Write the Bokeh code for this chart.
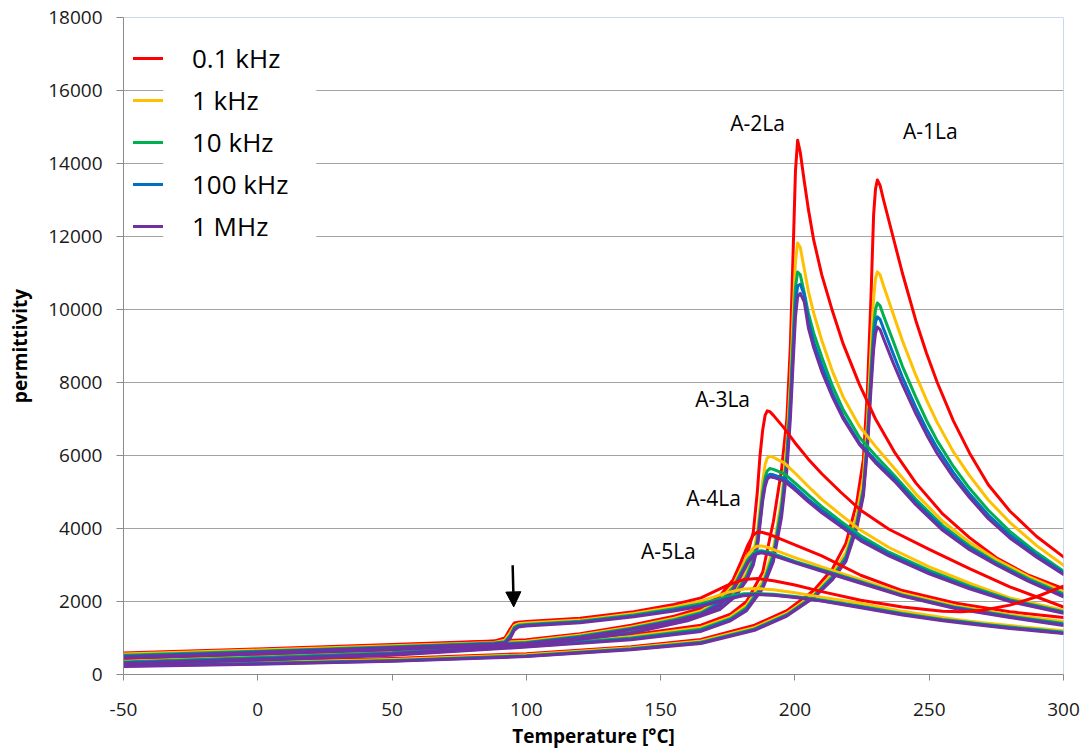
from bokeh.plotting import figure
from bokeh.models import (Range1d, Span, Arrow, NormalHead, Legend, LegendItem,
                          FixedTicker, NumeralTickFormatter, BoxAnnotation)
from bokeh.core.properties import value
from bokeh.embed import file_html
from bokeh.resources import INLINE

FONT = "Open Sans"

freq_labels = ["0.1 kHz", "1 kHz", "10 kHz", "100 kHz", "1 MHz"]
freq_colors = ["#FF0000", "#FFC000", "#00B050", "#0070C0", "#7030A0"]

x_ticks = [-50, 0, 50, 100, 150, 200, 250, 300]
y_ticks = [0, 2000, 4000, 6000, 8000, 10000, 12000, 14000, 16000, 18000]

# ---------------- A-1La ----------------
T_A1 = [-50, 0, 50, 100, 139, 165, 185, 197, 207, 214, 219, 223, 225.5, 227, 228.3, 229.3,
        230, 230.7, 231.7, 233, 236.5, 240, 245, 249, 253, 259, 265, 272, 280, 290, 300]
A1_01k = [300, 360, 440, 570, 760, 960, 1350, 1750, 2300, 2900, 3600, 4700, 5900, 7800, 10300, 12600,
          13300, 13550, 13400, 13000, 12000, 11000, 9700, 8800, 8000, 6950, 6070, 5200, 4480, 3780, 3222]
A1_1k = [270, 330, 410, 540, 730, 920, 1290, 1680, 2200, 2750, 3350, 4350, 5400, 6900, 8900, 10300,
         10850, 11030, 10950, 10650, 9900, 9150, 8200, 7520, 6900, 6100, 5450, 4780, 4170, 3530, 2995]
A1_10k = [245, 305, 385, 515, 705, 885, 1250, 1640, 2150, 2680, 3230, 4150, 5100, 6500, 8300, 9500,
          10000, 10180, 10100, 9830, 9150, 8450, 7600, 6960, 6400, 5700, 5100, 4500, 3920, 3340, 2830]
A1_100k = [232, 292, 372, 502, 692, 867, 1230, 1620, 2120, 2640, 3170, 4070, 4980, 6350, 8000, 9200,
           9650, 9800, 9730, 9470, 8800, 8150, 7320, 6720, 6200, 5530, 4950, 4370, 3820, 3270, 2790]
A1_1M = [220, 280, 360, 490, 680, 850, 1210, 1600, 2100, 2600, 3100, 4000, 4900, 6200, 7800, 8900,
         9350, 9520, 9450, 9200, 8550, 7950, 7150, 6570, 6050, 5400, 4850, 4270, 3740, 3210, 2740]

# ---------------- A-2La ----------------
T_A2 = [-50, 0, 50, 100, 139, 165, 176, 182, 188, 192, 195, 197, 198.3, 199.3, 200.2, 201, 202,
        203.5, 205, 207, 210, 214, 218, 224, 230, 237, 245, 255, 265, 275, 287, 300]
A2_01k = [370, 480, 620, 850, 1080, 1350, 1650, 2000, 2800, 4200, 5600, 7000, 9000, 11500, 13800, 14640, 14300,
          13500, 12750, 11900, 10950, 9950, 9050, 7950, 7000, 6100, 5250, 4400, 3750, 3200, 2720, 2350]
A2_1k = [340, 450, 590, 820, 1040, 1290, 1580, 1900, 2550, 3450, 4800, 6300, 8000, 9800, 11300, 11825, 11700,
         11100, 10500, 9900, 9150, 8300, 7600, 6800, 6250, 5650, 4950, 4200, 3620, 3150, 2680, 2270]
A2_10k = [315, 425, 565, 790, 1000, 1240, 1530, 1830, 2450, 3300, 4600, 6000, 7600, 9200, 10600, 11030, 10950,
          10450, 9900, 9350, 8700, 7900, 7250, 6500, 6000, 5450, 4800, 4080, 3520, 3070, 2620, 2210]
A2_100k = [295, 405, 545, 770, 975, 1205, 1500, 1790, 2400, 3200, 4450, 5800, 7300, 8800, 10150, 10650, 10690,
           10400, 9700, 9100, 8470, 7700, 7070, 6350, 5870, 5370, 4720, 4010, 3470, 3030, 2580, 2170]
A2_1M = [280, 390, 530, 750, 950, 1180, 1470, 1750, 2350, 3100, 4300, 5600, 7000, 8500, 9800, 10350, 10440,
         10200, 9500, 8950, 8300, 7600, 7000, 6300, 5800, 5300, 4650, 3950, 3420, 3000, 2550, 2130]

# ---------------- A-3La ----------------
T_A3 = [-50, 0, 50, 100, 139, 160, 172, 178, 182, 184.5, 186, 187, 188, 188.9, 189.7, 190.7, 192,
        196, 200, 205, 210, 217, 224.5, 235, 250, 265, 280, 300]
A3_01k = [400, 520, 650, 880, 1250, 1650, 2050, 2600, 3200, 3900, 5000, 6000, 6700, 7100, 7222, 7200, 7100,
          6750, 6350, 5900, 5500, 5000, 4500, 3980, 3430, 2900, 2400, 1850]
A3_1k = [360, 480, 610, 840, 1190, 1560, 1900, 2300, 2800, 3300, 3900, 4600, 5300, 5750, 5930, 5981, 5950,
         5800, 5520, 5150, 4800, 4380, 3950, 3480, 2950, 2500, 2100, 1760]
A3_10k = [345, 465, 595, 820, 1160, 1520, 1850, 2230, 2700, 3150, 3700, 4350, 5000, 5400, 5580, 5644, 5620,
          5500, 5250, 4920, 4600, 4200, 3800, 3350, 2850, 2420, 2050, 1720]
A3_100k = [320, 440, 575, 800, 1140, 1490, 1810, 2180, 2620, 3050, 3550, 4200, 4850, 5250, 5430, 5488, 5470,
           5370, 5130, 4800, 4500, 4120, 3720, 3300, 2800, 2380, 2020, 1700]
A3_1M = [300, 420, 560, 790, 1130, 1470, 1780, 2150, 2580, 3000, 3480, 4100, 4750, 5150, 5350, 5414, 5400,
         5300, 5060, 4730, 4430, 4060, 3660, 3250, 2760, 2350, 2000, 1680]

# ---------------- A-4La ----------------
T_A4 = [-50, 0, 50, 100, 120, 139, 155, 165, 172, 177, 180, 182.5, 184.5, 186, 187.5, 190, 195,
        200, 210, 224.5, 240, 260, 280, 300]
A4_01k = [560, 670, 790, 950, 1120, 1350, 1600, 1820, 2150, 2600, 3100, 3550, 3820, 3900, 3900, 3850, 3700,
          3550, 3250, 2720, 2300, 1950, 1720, 1560]
A4_1k = [520, 630, 750, 910, 1080, 1300, 1540, 1740, 2040, 2450, 2900, 3280, 3460, 3515, 3523, 3480, 3340,
         3200, 2950, 2600, 2230, 1880, 1640, 1450]
A4_10k = [490, 600, 720, 880, 1050, 1270, 1500, 1690, 1980, 2380, 2800, 3150, 3320, 3380, 3390, 3360, 3230,
          3100, 2870, 2540, 2180, 1840, 1600, 1400]
A4_100k = [470, 580, 700, 860, 1030, 1250, 1470, 1660, 1940, 2330, 2750, 3100, 3280, 3340, 3360, 3330, 3200,
           3080, 2850, 2520, 2160, 1820, 1580, 1370]
A4_1M = [450, 560, 680, 840, 1000, 1230, 1450, 1640, 1900, 2300, 2710, 3060, 3250, 3310, 3332, 3300, 3180,
         3060, 2830, 2500, 2150, 1800, 1560, 1340]

# ---------------- A-5La ----------------
T_A5 = [-50, 0, 50, 88, 92, 94, 95.5, 97, 100, 120, 140, 155, 165, 175, 181, 186, 192, 200, 210,
        224.5, 240, 255, 262, 270, 280, 290, 300]
A5_01k = [590, 700, 820, 915, 1000, 1250, 1410, 1435, 1450, 1540, 1720, 1920, 2100, 2450, 2600, 2630, 2570,
          2450, 2270, 2035, 1850, 1730, 1720, 1760, 1900, 2130, 2419]
A5_1k = [560, 670, 790, 880, 940, 1150, 1340, 1390, 1410, 1490, 1670, 1850, 2010, 2250, 2340, 2356, 2320,
         2240, 2120, 1950, 1730, 1560, 1490, 1420, 1340, 1270, 1200]
A5_10k = [530, 640, 760, 860, 900, 1080, 1290, 1350, 1370, 1460, 1630, 1800, 1940, 2130, 2210, 2219, 2200,
          2140, 2040, 1870, 1670, 1510, 1450, 1380, 1300, 1230, 1160]
A5_100k = [500, 620, 740, 845, 880, 1030, 1250, 1320, 1350, 1440, 1600, 1770, 1900, 2090, 2180, 2200, 2180,
           2120, 2020, 1850, 1650, 1490, 1430, 1360, 1280, 1210, 1140]
A5_1M = [480, 600, 730, 830, 865, 990, 1210, 1300, 1330, 1420, 1580, 1740, 1870, 2060, 2160, 2190, 2170,
         2110, 2010, 1830, 1630, 1470, 1410, 1340, 1260, 1190, 1120]

samples = [
    (T_A1, [A1_01k, A1_1k, A1_10k, A1_100k, A1_1M]),
    (T_A2, [A2_01k, A2_1k, A2_10k, A2_100k, A2_1M]),
    (T_A3, [A3_01k, A3_1k, A3_10k, A3_100k, A3_1M]),
    (T_A4, [A4_01k, A4_1k, A4_10k, A4_100k, A4_1M]),
    (T_A5, [A5_01k, A5_1k, A5_10k, A5_100k, A5_1M]),
]

sample_names = ["A-1La", "A-2La", "A-3La", "A-4La", "A-5La"]
name_x = [250.4, 186.1, 173.1, 169.7, 152.9]
name_y = [14877, 15118, 7551, 4830, 3386]

# arrow marking the step near 95 °C
arrow_x = [94.9, 95.3]
arrow_y = [2995, 1852]

p = figure(width=1083, height=751, x_range=Range1d(-50, 300), y_range=Range1d(0, 18000),
           output_backend="svg", toolbar_location=None,
           min_border_left=123, min_border_right=20, min_border_top=17, min_border_bottom=77)
p.outline_line_color = None
p.background_fill_color = "white"
p.border_fill_color = "white"

p.xgrid.grid_line_color = None
p.ygrid.grid_line_color = "#a3a3a3"
p.ygrid.grid_line_width = 1

p.xaxis.ticker = FixedTicker(ticks=x_ticks)
p.yaxis.ticker = FixedTicker(ticks=y_ticks)
p.yaxis.formatter = NumeralTickFormatter(format="0")
p.xaxis.formatter = NumeralTickFormatter(format="0")
for ax in (p.xaxis, p.yaxis):
    ax.axis_line_color = "#8a8a8a"
    ax.major_tick_line_color = "#8a8a8a"
    ax.minor_tick_line_color = None
    ax.major_tick_in = 0
    ax.major_label_text_font = FONT
    ax.major_label_text_font_size = "19px"
    ax.major_label_text_color = "#1a1a1a"
    ax.axis_label_text_font = FONT
    ax.axis_label_text_font_size = "19px"
    ax.axis_label_text_font_style = "bold"
    ax.axis_label_text_color = "black"
p.xaxis.major_tick_out = 6
p.yaxis.major_tick_out = 7
p.xaxis.major_label_standoff = 22
p.yaxis.major_label_standoff = 14
p.xaxis.axis_label = "Temperature [°C]"
p.yaxis.axis_label = "permittivity"
p.xaxis.axis_label_standoff = 4
p.yaxis.axis_label_standoff = 12

p.add_layout(Span(location=18000, dimension="width", line_color="#8db3e2", line_width=1))
p.add_layout(Span(location=300, dimension="height", line_color="#8db3e2", line_width=1))

# white legend panel (covers gridlines behind the legend text)
p.add_layout(BoxAnnotation(left=-35.2, right=21.8, bottom=11760, top=17750,
                           fill_color="white", fill_alpha=1.0, line_color=None, level="underlay"))

legend_renderers = []
for si, (T, series) in enumerate(samples):
    for fi, vals in enumerate(series):
        r = p.line(T, vals, line_color=freq_colors[fi], line_width=3, line_join="round", line_cap="round")
        if si == 0:
            legend_renderers.append(r)

p.text(x=name_x, y=name_y, text=sample_names, text_align="center", text_baseline="middle",
       text_font=value(FONT), text_font_size="21px", text_color="black")

p.add_layout(Arrow(end=NormalHead(size=15, fill_color="black", line_color="black", line_width=1),
                   x_start=arrow_x[0], y_start=arrow_y[0], x_end=arrow_x[1], y_end=arrow_y[1],
                   line_width=2.5, line_color="black"))

legend = Legend(items=[LegendItem(label=lab, renderers=[r]) for lab, r in zip(freq_labels, legend_renderers)],
                location=(10, 428))
legend.glyph_width = 30
legend.glyph_height = 40
legend.label_height = 40
legend.label_width = 115
legend.spacing = 2
legend.padding = 10
legend.margin = 0
legend.label_standoff = 29
legend.label_text_font = FONT
legend.label_text_font_size = "26px"
legend.label_text_color = "black"
legend.border_line_color = None
legend.background_fill_alpha = 0.0
p.add_layout(legend)

open("out.html", "w").write(file_html(p, INLINE))
